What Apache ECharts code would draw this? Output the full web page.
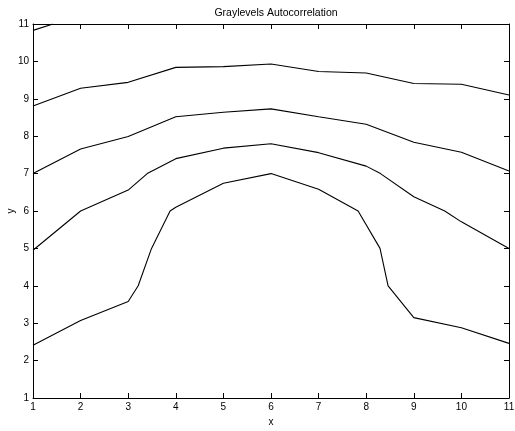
<!DOCTYPE html>
<html>
<head>
<meta charset="utf-8">
<script src="https://cdn.jsdelivr.net/npm/echarts@6/dist/echarts.min.js"></script>
<style>
  html, body { margin: 0; padding: 0; background: #fff; }
  #chart { width: 515px; height: 431px; }
</style>
</head>
<body>
<div id="chart"></div>
<script>
// Contour levels of the gray-level autocorrelation surface, as [x, y] vertices
const contourCorner = [[1, 10.83], [1.42, 11]];
const contourOuter = [[1, 8.81], [2, 9.28], [3, 9.44], [4, 9.84], [5, 9.86], [6, 9.93],
  [7, 9.73], [8, 9.69], [9, 9.41], [10, 9.39], [11, 9.10]];
const contourUpper = [[1, 7.0], [2, 7.66], [3, 7.99], [4, 8.52], [5, 8.64], [6, 8.73],
  [7, 8.52], [8, 8.32], [9, 7.84], [10, 7.57], [11, 7.07]];
const contourMiddle = [[1, 4.95], [2, 6.0], [3, 6.56], [3.4, 7.0], [4, 7.4], [5, 7.68],
  [6, 7.8], [7, 7.56], [8, 7.2], [8.3, 7.0], [9, 6.38], [9.65, 6.0], [10, 5.71], [11, 5.0]];
const contourInner = [[1, 2.41], [2, 3.07], [3, 3.58], [3.21, 4.0], [3.49, 5.0], [3.88, 6.0],
  [4, 6.1], [5, 6.74], [6, 7.0], [7, 6.58], [7.83, 6.0], [8.29, 5.0], [8.46, 4.0],
  [9, 3.15], [10, 2.88], [11, 2.46]];

const xTicks = [1, 2, 3, 4, 5, 6, 7, 8, 9, 10, 11];
const yTicks = [1, 2, 3, 4, 5, 6, 7, 8, 9, 10, 11];

const font = 'Liberation Sans, Arial, Helvetica, sans-serif';
const chart = echarts.init(document.getElementById('chart'), null, { renderer: 'canvas' });

function axisBase(ticks, shown) {
  return {
    type: 'value',
    min: ticks[0],
    max: ticks[ticks.length - 1],
    interval: 1,
    axisLine: { show: true, onZero: false, lineStyle: { color: '#000', width: 1 } },
    axisTick: { show: true, inside: true, length: 5, lineStyle: { color: '#000', width: 1 } },
    axisLabel: { show: shown, color: '#000', fontSize: 10, fontFamily: font, margin: 4 },
    splitLine: { show: false }
  };
}

const lineSeries = (data) => ({
  type: 'line',
  data: data,
  showSymbol: false,
  symbol: 'none',
  silent: true,
  lineStyle: { color: '#000', width: 1.1 },
  animation: false
});

chart.setOption({
  backgroundColor: '#fff',
  animation: false,
  title: {
    text: 'Graylevels Autocorrelation',
    left: 271,
    top: 3,
    textAlign: 'center',
    textStyle: { fontSize: 10.5, fontWeight: 'normal', color: '#000', fontFamily: font }
  },
  grid: { left: 33, right: 6, top: 24, bottom: 33, containLabel: false, outerBoundsMode: 'none' },
  xAxis: [
    Object.assign(axisBase(xTicks, true), {
      position: 'bottom',
      name: 'x', nameLocation: 'middle', nameGap: 18,
      nameTextStyle: { fontSize: 10, color: '#000', fontFamily: font }
    }),
    Object.assign(axisBase(xTicks, false), { position: 'top' })
  ],
  yAxis: [
    Object.assign(axisBase(yTicks, true), {
      position: 'left',
      name: 'y', nameLocation: 'middle', nameGap: 17, nameMoveOverlap: false,
      nameTextStyle: { fontSize: 10, color: '#000', fontFamily: font }
    }),
    Object.assign(axisBase(yTicks, false), { position: 'right' })
  ],
  series: [
    lineSeries(contourCorner),
    lineSeries(contourOuter),
    lineSeries(contourUpper),
    lineSeries(contourMiddle),
    lineSeries(contourInner)
  ]
});
</script>
</body>
</html>
